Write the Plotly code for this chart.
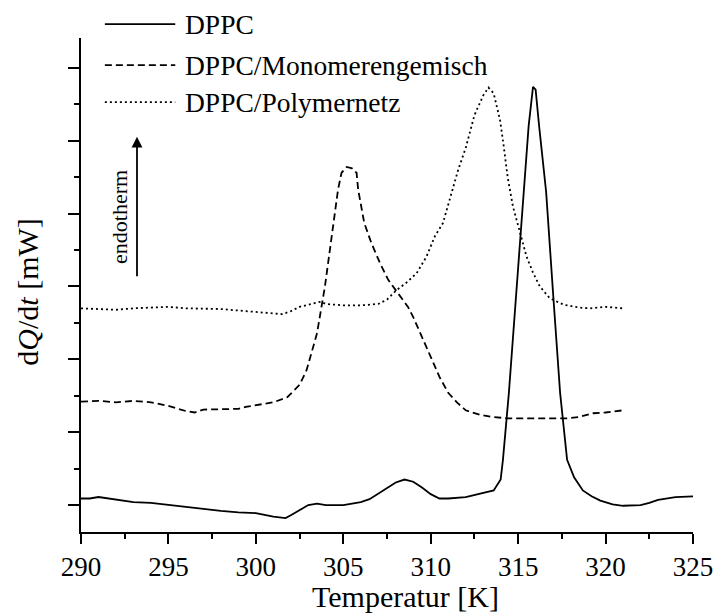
import plotly.graph_objects as go

# ---------------- data ----------------
series_names = ["DPPC", "DPPC/Monomerengemisch", "DPPC/Polymernetz"]

T_dppc = [290, 290.5, 291, 292, 293, 294, 295, 296, 297, 298, 299, 300, 301, 301.7,
          302, 302.5, 303, 303.5, 304, 305, 306, 306.5, 307, 307.5, 308, 308.5, 309,
          309.5, 310, 310.5, 311, 312, 313, 313.6, 314.0, 314.13, 314.47, 314.9, 315.3,
          315.6, 315.85, 316.0, 316.2, 316.6, 317.0, 317.4, 317.8, 318.2, 318.7, 319.2,
          319.7, 320.4, 321, 322, 322.5, 323, 324, 325]
y_dppc = [0.09, 0.09, 0.11, 0.07, 0.04, 0.03, 0.0, -0.03, -0.05, -0.08, -0.10, -0.11,
          -0.16, -0.18, -0.14, -0.07, 0.0, 0.02, 0.0, 0.0, 0.04, 0.08, 0.16, 0.24, 0.31,
          0.35, 0.32, 0.24, 0.15, 0.09, 0.09, 0.11, 0.17, 0.20, 0.35, 0.62, 1.54, 2.9,
          4.3, 5.2, 5.74, 5.70, 5.2, 4.3, 2.9, 1.54, 0.62, 0.38, 0.20, 0.12, 0.06, 0.01,
          -0.01, 0.0, 0.03, 0.07, 0.11, 0.12]

T_mono = [290, 291, 292, 293, 294, 295, 296, 296.5, 297, 298, 299, 299.5, 300, 301,
          301.8, 302.5, 302.9, 303.5, 303.95, 304.24, 304.5, 304.7, 304.9, 305.2, 305.5,
          305.76, 305.85, 306.04, 306.2, 306.6, 307.1, 307.57, 308.14, 308.7, 309.0,
          309.5, 310, 310.5, 311, 311.5, 312, 312.8, 313.5, 314.4, 315, 316, 317, 317.8,
          318.5, 319.3, 320, 320.8, 321]
y_mono = [1.42, 1.43, 1.41, 1.43, 1.41, 1.36, 1.29, 1.27, 1.31, 1.32, 1.32, 1.35, 1.37,
          1.41, 1.48, 1.65, 1.85, 2.36, 3.0, 3.5, 4.0, 4.33, 4.56, 4.64, 4.62, 4.56,
          4.33, 4.1, 3.87, 3.6, 3.32, 3.09, 2.91, 2.72, 2.58, 2.3, 2.03, 1.76, 1.54,
          1.41, 1.3, 1.24, 1.21, 1.19, 1.19, 1.19, 1.19, 1.19, 1.21, 1.26, 1.27, 1.3, 1.3]

T_poly = [290, 291, 292, 293, 294, 295, 296, 297, 298, 299, 300, 300.5, 301, 301.5,
          302, 302.5, 303, 303.7, 304, 305, 306, 307, 307.5, 308.05, 308.6, 309.19,
          309.76, 310.24, 310.7, 311.2, 311.57, 312.0, 312.5, 313.0, 313.3, 313.6,
          313.96, 314.15, 314.4, 314.7, 315.1, 315.48, 315.85, 316.24, 316.8, 317.6,
          318.5, 319.1, 320, 321]
y_poly = [2.70, 2.69, 2.68, 2.70, 2.71, 2.72, 2.70, 2.70, 2.69, 2.67, 2.65, 2.64, 2.62,
          2.62, 2.66, 2.72, 2.75, 2.79, 2.76, 2.74, 2.74, 2.76, 2.82, 2.95, 3.05, 3.18,
          3.41, 3.69, 3.87, 4.28, 4.6, 4.9, 5.35, 5.62, 5.73, 5.65, 5.29, 4.97, 4.5,
          4.1, 3.74, 3.41, 3.19, 3.0, 2.84, 2.75, 2.71, 2.70, 2.72, 2.70]

x_ticks = [290, 295, 300, 305, 310, 315, 320, 325]
x_title = "Temperatur [K]"
y_title = "d<i>Q</i>/d<i>t</i> [mW]"
arrow_label = "endotherm"

# ---------------- figure ----------------
FONT = "Liberation Serif"
dashes = ["solid", "7px,4px", "2px,3px"]
xs = [T_dppc, T_mono, T_poly]
ys = [y_dppc, y_mono, y_poly]

fig = go.Figure()
for name, x, y, d in zip(series_names, xs, ys, dashes):
    fig.add_trace(go.Scatter(x=x, y=y, mode="lines", name=name,
                             line=dict(color="black", width=1.8, dash=d),
                             showlegend=False))

# manual legend (long sample lines like the original)
legend_rows = [1.028, 0.945, 0.870]
for name, d, yy in zip(series_names, dashes, legend_rows):
    fig.add_shape(type="line", xref="paper", yref="paper",
                  x0=0.039, x1=0.154, y0=yy, y1=yy,
                  line=dict(color="black", width=1.8, dash=d))
    fig.add_annotation(xref="paper", yref="paper", x=0.166, y=yy, text=name,
                       showarrow=False, xanchor="left", yanchor="middle",
                       font=dict(family=FONT, size=27.5, color="black"))

# endotherm arrow
fig.add_annotation(xref="paper", yref="paper", x=0.0915, y=0.80, ax=0, ay=141,
                   text="", showarrow=True, arrowhead=2, arrowsize=1.2,
                   arrowwidth=1.8, arrowcolor="black")
fig.add_annotation(xref="paper", yref="paper", x=0.064, y=0.638, text=arrow_label,
                   showarrow=False, textangle=-90, xanchor="center", yanchor="middle",
                   font=dict(family=FONT, size=22, color="black"))

# axis titles (placed as in the original, slightly off-centre)
fig.add_annotation(xref="paper", yref="paper", x=0.531, y=-0.1296, text=x_title,
                   showarrow=False, xanchor="center", yanchor="middle",
                   font=dict(family=FONT, size=30, color="black"))
fig.add_annotation(xref="paper", yref="paper", x=-0.087, y=0.486, text=y_title,
                   showarrow=False, textangle=-90, xanchor="center", yanchor="middle",
                   font=dict(family=FONT, size=30, color="black"))

fig.update_layout(
    width=714, height=615,
    margin=dict(l=81, r=21, t=38, b=83, autoexpand=False),
    paper_bgcolor="white", plot_bgcolor="white",
    font=dict(family=FONT, color="black"),
)
fig.update_xaxes(range=[290, 325], tickvals=x_ticks, ticktext=[str(v) for v in x_ticks],
                 ticks="outside", ticklen=10, tickwidth=2, tickcolor="black",
                 minor=dict(dtick=2.5, tick0=290, ticks="outside", ticklen=5,
                            tickwidth=2, tickcolor="black"),
                 showline=True, linewidth=2, linecolor="black", showgrid=False,
                 zeroline=False, automargin=False, tickfont=dict(family=FONT, size=27))
fig.update_yaxes(range=[-0.37, 6.41], dtick=1, tick0=0, showticklabels=False,
                 ticks="outside", ticklen=11, tickwidth=2, tickcolor="black",
                 minor=dict(dtick=0.5, tick0=0, ticks="outside", ticklen=5,
                            tickwidth=2, tickcolor="black"),
                 showline=True, linewidth=2, linecolor="black", showgrid=False,
                 zeroline=False, automargin=False)

# remove the browser's default page margin so the figure sits at the window origin
fig.write_html("out.html",
               config={"displayModeBar": False},
               post_script="document.body.style.margin='0';"
                           "document.body.style.overflow='hidden';")
